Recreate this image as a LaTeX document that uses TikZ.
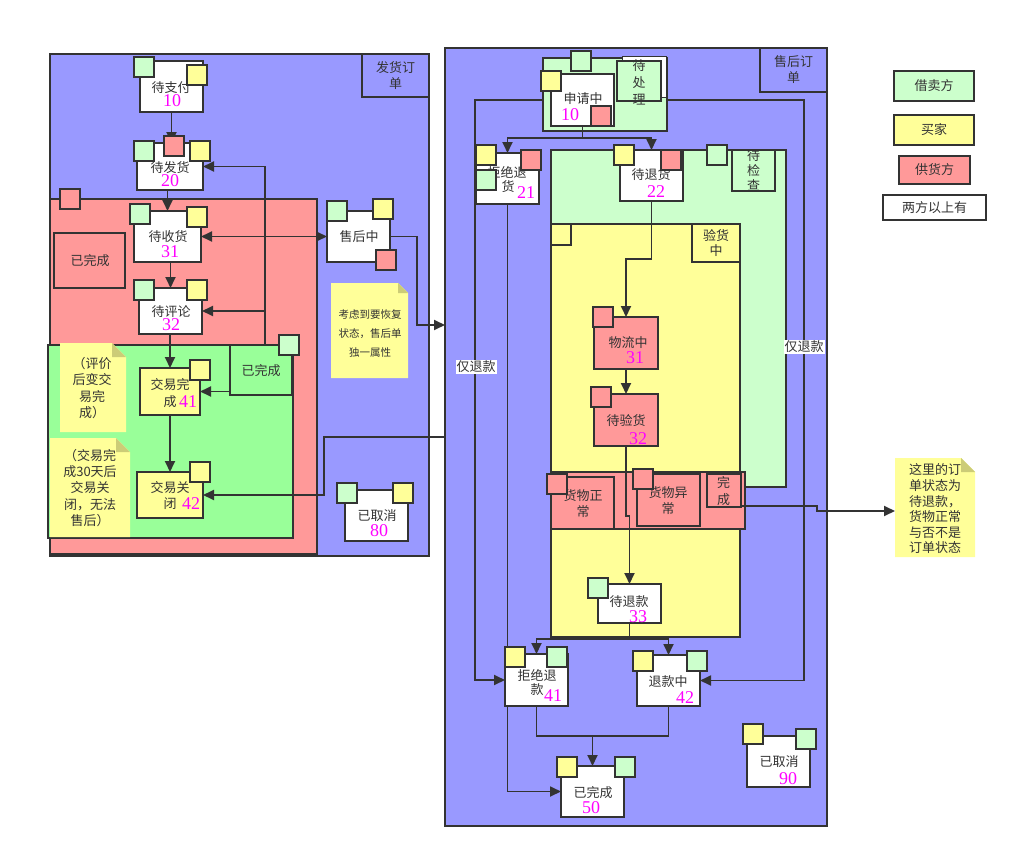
\documentclass[tikz,border=0pt]{standalone}
\usepackage{fontspec}
\setmainfont{Noto Sans CJK SC}
\newfontfamily\numf{Liberation Serif}
\usetikzlibrary{arrows.meta,fit}
\definecolor{bl}{HTML}{9999FF}
\definecolor{rd}{HTML}{FF9999}
\definecolor{gr}{HTML}{99FF99}
\definecolor{lg}{HTML}{CCFFCC}
\definecolor{yl}{HTML}{FFFF99}
\definecolor{lc}{HTML}{333333}
\definecolor{mg}{HTML}{FF00FF}
\definecolor{foldc}{HTML}{CCCC77}
\pgfdeclarelayer{back}
\pgfdeclarelayer{mid}
\pgfsetlayers{back,mid,main}
\newcommand\fsz[2]{\fontsize{#1}{#2}\selectfont}
\tikzset{
 bx/.style={draw=lc, line width=2.2pt, inner sep=0pt, outer sep=0pt},
 ln/.style={draw=lc, line width=1.8pt},
 arr/.style={ln, -{Triangle[length=11pt,width=10pt]}},
 arrtwo/.style={ln, {Triangle[length=11pt,width=10pt]}-{Triangle[length=11pt,width=10pt]}},
 lab/.style={font=\fsz{13}{16}, text=lc, inner sep=0pt, align=center},
 num/.style={font=\numf\fsz{18}{18}, text=mg, inner sep=0pt},
 only/.style={lab, fill=white, inner sep=1pt},
}
\newcommand\bxr[6]{\node[bx,fill=#6,fit={(#2,#3)(#4,#5)}] (#1) {};}
\newcommand\sqr[4]{\node[bx,fill=#4,fit={(#2,#3)(#2+20,#3+20)}] (#1) {};}
\newcommand\notebox[6]{%
 \fill[yl] (#2,#3) -- (#4-#6,#3) -- (#4,#3+#6) -- (#4,#5) -- (#2,#5) -- cycle;
 \fill[foldc] (#4-#6,#3) -- (#4-#6,#3+#6) -- (#4,#3+#6) -- cycle;
 \path node[inner sep=0pt,outer sep=0pt,fit={(#2,#3)(#4,#5)}] (#1) {};}
\begin{document}
\begin{tikzpicture}[x=1pt,y=-1pt]
\useasboundingbox (0,0) rectangle (1017,859);
\coordinate (colA) at (265,0);
\coordinate (colB) at (417,0);
\coordinate (colC) at (324,0);
\coordinate (colE) at (475,0);
\coordinate (colF) at (804,0);
\coordinate (colG) at (817,0);
\coordinate (rowA) at (0,325);
\coordinate (rowB) at (0,437);
\coordinate (rowC) at (0,736);
\coordinate (rowE) at (0,100);
\coordinate (rowF) at (0,506);
\coordinate (rowG) at (0,511);

\begin{pgfonlayer}{back}
% ---------- left order box
\bxr{Lbox}{50}{54}{429}{556}{bl}
\bxr{Ltitle}{362}{54}{429}{97}{bl}
\node[lab] (Ltt) at (395.5,76) {发货订\\单};
\bxr{Lred}{50}{199}{317}{554}{rd}
\bxr{Lgreen}{48}{345}{293}{538}{gr}
\notebox{noteA}{331}{283}{408}{378}{10}
\node[lab, font=\fsz{10.5}{19}] (noteAt) at (370,334) {考虑到要恢复\\状态，售后单\\独一属性\hspace{3em}};
\notebox{noteB}{60}{343}{126}{432}{14}
\node[lab, font=\fsz{13}{16.3}] (noteBt) at (92,388) {（评价\\后变交\\易完\\成）};
\notebox{noteC}{50}{438}{130}{537}{14}
\node[lab, font=\fsz{13}{16.2}] (noteCt) at (90,488) {（交易完\\成30天后\\交易关\\闭，无法\\售后）};
% ---------- right order box
\bxr{Rbox}{445}{48}{827}{826}{bl}
\bxr{Rtitle}{760}{48}{827}{92}{bl}
\node[lab] (Rtt) at (793.5,70) {售后订\\单};
\bxr{grp1}{543}{58}{667}{131}{lg}
\bxr{grp2}{551}{150}{786}{487}{lg}
\bxr{grp2l}{732}{150}{775}{191}{lg}
\node[lab, font=\fsz{13}{15}] (grp2t) at (753.5,170) {待\\检\\查};
\bxr{grp3}{551}{224}{740}{637}{yl}
\bxr{grp3l}{692}{224}{740}{262}{yl}
\node[lab, font=\fsz{13}{15}] (grp3t) at (716,243) {验货\\中};
\bxr{grp4}{551}{472}{745}{529}{rd}
\end{pgfonlayer}

% ---------- left region boxes
\sqr{Lredsq}{60}{189}{rd}
\bxr{rdone}{54}{233}{125}{288}{rd}
\node[lab] (rdonet) at (90,261) {已完成};
\bxr{gdone}{230}{345}{292}{395}{gr}
\node[lab] (gdonet) at (261,371) {已完成};
\sqr{gdonesq}{279}{335}{lg}

% ---------- left states
\bxr{zf}{140}{61}{203}{112}{white}
\node[lab] (zft) at (171,88) {待支付};
\node[num] (zfn) at (172,101) {10};
\sqr{zfa}{134}{57}{lg}
\sqr{zfb}{187}{65}{yl}

\bxr{ff}{137}{143}{203}{190}{white}
\node[lab] (fft) at (170,168) {待发货};
\node[num] (ffn) at (170,181) {20};
\sqr{ffa}{134}{141}{lg}
\sqr{ffb}{164}{136}{rd}
\sqr{ffc}{190}{141}{yl}

\bxr{sh}{134}{211}{201}{262}{white}
\node[lab] (sht) at (168,237) {待收货};
\node[num] (shn) at (170,252) {31};
\sqr{sha}{130}{204}{lg}
\sqr{shb}{187}{207}{yl}

\bxr{pl}{139}{288}{202}{334}{white}
\node[lab] (plt) at (171,312) {待评论};
\node[num] (pln) at (171,325) {32};
\sqr{pla}{134}{280}{lg}
\sqr{plb}{187}{280}{yl}

\bxr{jw}{140}{368}{200}{415}{yl}
\node[lab] (jwt) at (170,385) {交易完};
\node[lab] (jwu) at (170,402) {成};
\node[num] (jwn) at (188,402) {41};
\sqr{jwa}{190}{360}{yl}

\bxr{jg}{137}{472}{203}{518}{yl}
\node[lab] (jgt) at (170,488) {交易关};
\node[lab] (jgu) at (170,504) {闭};
\node[num] (jgn) at (191,504) {42};
\sqr{jga}{190}{462}{yl}

\bxr{shz}{327}{211}{390}{262}{white}
\node[lab] (shzt) at (359,237) {售后中};
\sqr{shza}{327}{201}{lg}
\sqr{shzb}{373}{199}{yl}
\sqr{shzc}{376}{250}{rd}

\bxr{qx}{345}{490}{408}{541}{white}
\node[lab] (qxt) at (377,516) {已取消};
\node[num] (qxn) at (379,531) {80};
\sqr{qxa}{337}{483}{lg}
\sqr{qxb}{393}{483}{yl}

% ---------- right group decorations
\draw[draw=lc, line width=1pt, fill=white] (622,57) rectangle (666,97);
\bxr{grp1l}{617}{61}{661}{101}{lg}
\node[lab, font=\fsz{13}{17}] (grp1t) at (639,82) {待\\处\\理};
\sqr{grp1sq}{571}{51}{lg}
\sqr{grp2sq}{707}{145}{lg}
\node[bx,fill=yl,fit={(551,224)(571,245)}] (grp3sq) {};

% ---------- right states
\bxr{sq}{551}{74}{614}{126}{white}
\node[lab] (sqt) at (583,99) {申请中};
\node[num] (sqn) at (570,115) {10};
\sqr{sqa}{541}{71}{yl}
\sqr{sqb}{591}{106}{rd}

\bxr{jt}{476}{153}{539}{204}{white}
\node[lab] (jtt) at (507,172) {拒绝退};
\node[lab] (jtu) at (508,187) {货};
\node[num] (jtn) at (526,193) {21};
\sqr{jta}{476}{145}{yl}
\sqr{jtb}{521}{150}{rd}
\sqr{jtc}{476}{170}{lg}

\bxr{dt}{620}{150}{683}{201}{white}
\node[lab] (dtt) at (651,175) {待退货};
\node[num] (dtn) at (656,192) {22};
\sqr{dta}{614}{145}{yl}
\sqr{dtb}{661}{150}{rd}

\bxr{wl}{594}{317}{658}{369}{rd}
\node[lab] (wlt) at (628,343) {物流中};
\node[num] (wln) at (635,358) {31};
\sqr{wla}{593}{307}{rd}

\bxr{dy}{594}{394}{658}{446}{rd}
\node[lab] (dyt) at (626,421) {待验货};
\node[num] (dyn) at (638,439) {32};
\sqr{dya}{591}{387}{rd}

\bxr{hz}{551}{477}{614}{529}{rd}
\node[lab] (hzt) at (583,496) {货物正};
\node[lab] (hzu) at (583,512) {常};
\sqr{hza}{547}{474}{rd}
\bxr{hy}{637}{474}{700}{526}{rd}
\node[lab] (hyt) at (668,493) {货物异};
\node[lab] (hyu) at (668,509) {常};
\sqr{hya}{633}{469}{rd}
\bxr{wan}{707}{474}{741}{507}{rd}
\node[lab, font=\fsz{13}{17}] (want) at (723.5,491) {完\\成};

\bxr{dtk}{598}{584}{661}{623}{white}
\node[lab] (dtkt) at (629,602) {待退款};
\node[num] (dtkn) at (638,617) {33};
\sqr{dtka}{588}{578}{lg}

\bxr{jtk}{505}{654}{568}{706}{white}
\node[lab] (jtkt) at (537,675) {拒绝退};
\node[lab] (jtku) at (537,690) {款};
\node[num] (jtkn) at (553,696) {41};
\sqr{jtka}{505}{647}{yl}
\sqr{jtkb}{547}{647}{lg}

\bxr{tkz}{637}{655}{700}{706}{white}
\node[lab] (tkzt) at (668,682) {退款中};
\node[num] (tkzn) at (685,698) {42};
\sqr{tkza}{633}{651}{yl}
\sqr{tkzb}{687}{651}{lg}

\bxr{wc}{561}{766}{624}{817}{white}
\node[lab] (wct) at (593,793) {已完成};
\node[num] (wcn) at (591,808) {50};
\sqr{wca}{557}{757}{yl}
\sqr{wcb}{615}{757}{lg}

\bxr{qy}{747}{736}{810}{787}{white}
\node[lab] (qyt) at (779,762) {已取消};
\node[num] (qyn) at (788,779) {90};
\sqr{qya}{743}{724}{yl}
\sqr{qyb}{796}{729}{lg}

\node[only] (onlyL) at (476,367) {仅退款};
\node[only] (onlyR) at (804,347) {仅退款};

% ---------- legend and right note
\bxr{lgA}{894}{71}{974}{101}{lg}
\node[lab] (lgAt) at (934,86) {借卖方};
\bxr{lgB}{894}{115}{974}{145}{yl}
\node[lab] (lgBt) at (934,130) {买家};
\bxr{lgC}{899}{156}{970}{184}{rd}
\node[lab] (lgCt) at (934.5,170) {供货方};
\bxr{lgD}{883}{195}{986}{220}{white}
\node[lab] (lgDt) at (934.5,208) {两方以上有};
\notebox{rnote}{895}{458}{975}{557}{14}
\node[lab, font=\fsz{13}{15.6}, align=left] (rnotet) at (935,509) {这里的订\\单状态为\\待退款，\\货物正常\\与否不是\\订单状态};

% ---------- connectors
\begin{pgfonlayer}{mid}
\draw[arr] (zf.south) -- (zf.south |- ff.north);
\draw[arr] (sh.north |- ff.south) -- (sh.north);
\draw[arr] (pl.north |- sh.south) -- (pl.north);
\draw[arr] (jw.north |- pl.south) -- (jw.north);
\draw[arr] (jw.south) -- (jw.south |- jg.north);
\draw[arrtwo] (sh.east |- shz.west) -- (shz.west);
\draw[arr] (gdone.north -| colA) |- (ff.east);
\draw[arr] (gdone.north -| colA) |- (pl.east);
\draw[arr] (gdone.west |- jw.east) -- (jw.east);
\draw[arr] (shz.east) -- (shz.east -| colB) |- (Rbox.west |- rowA);
\draw[arr] (Rbox.west |- rowB) -- (colC |- rowB) |- (jg.east);

\draw[arr] (sq.south) -- ++(0,12) -| (jt.north);
\draw[arr] (sq.south) -- ++(0,12) -| (dt.north);
\draw[arr] (dt.south) -- ++(0,58) -| (wl.north);
\draw[arr] (wl.south) -- (wl.south |- dy.north);
\draw[arr] (dy.south) -- ++(0,70) -| (dtk.north);
\draw[arr] (dtk.south) -- ++(0,16) -| (jtk.north);
\draw[arr] (dtk.south) -- ++(0,16) -| (tkz.north);
\draw[ln] (jtk.south) |- (tkz.south |- rowC) -- (tkz.south);
\draw[arr] (wc.north |- rowC) -- (wc.north);
\draw[arr] (jt.south) |- (wc.west);
\draw[arr] (grp1.west |- rowE) -- (colE |- rowE) |- (jtk.west);
\draw[arr] (grp1.east |- rowE) -- (colF |- rowE) |- (tkz.east);
\draw[arr] (wan.east |- rowF) -- (colG |- rowF) -- (colG |- rowG) -- (rnote.west |- rowG);
\end{pgfonlayer}
\end{tikzpicture}
\end{document}
